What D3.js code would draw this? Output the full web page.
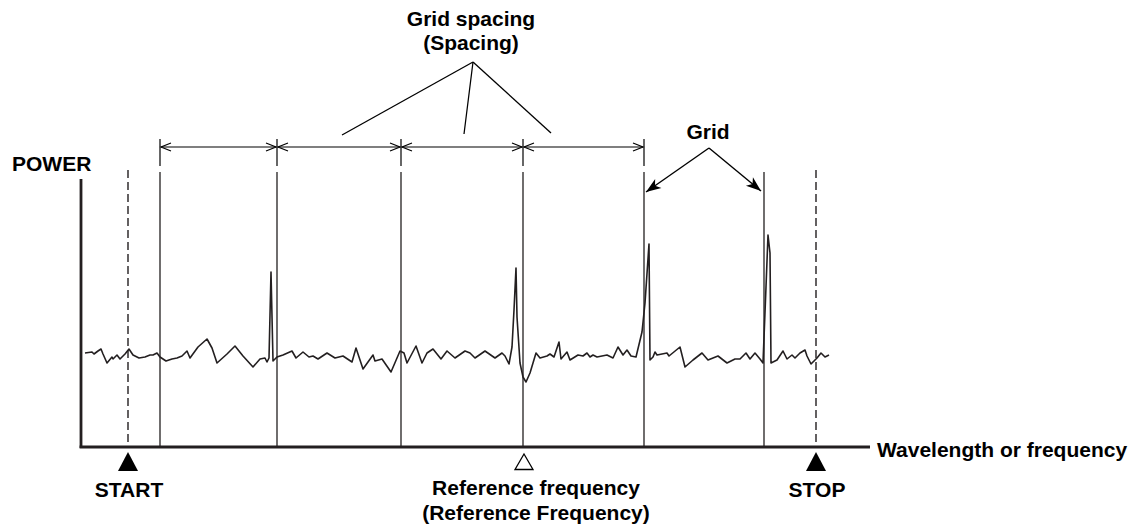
<!DOCTYPE html>
<html>
<head>
<meta charset="utf-8">
<script src="https://cdn.jsdelivr.net/npm/d3@7"></script>
<style>
  html, body { margin: 0; padding: 0; background: #ffffff; }
  svg { display: block; }
  text { font-family: "Liberation Sans", Arial, Helvetica, sans-serif; font-weight: bold; fill: #000; }
</style>
</head>
<body>
<svg id="chart" width="1144" height="528"></svg>
<script>
// ---- Data (arbitrary units: frequency offset from reference, power relative to noise floor) ----
const gridOffsets = [-363, -246, -122, 0, 121, 241];
const startOffset = -395;
const stopOffset = 293;
const referenceOffset = 0;

const traceFreq = [-438,-431,-429,-425,-422,-420,-416,-411,-410,-406,
  -403,-398,-394,-390,-384,-378,-373,-370,-366,-363,
  -357,-351,-346,-341,-336,-333,-325,-316,-311,-306,
  -296,-288,-280,-270,-263,-258,-256,-254,-252,-250,
  -246,-240,-231,-227,-220,-214,-210,-205,-196,-188,
  -180,-171,-167,-160,-150,-148,-141,-132,-123,-119,
  -116,-107,-101,-96,-90,-82,-76,-68,-58,-53,
  -48,-38,-28,-21,-18,-14,-11,-9,-7,-6,
  -3,0,3,7,13,17,24,27,31,36,
  38,44,47,55,60,64,67,70,74,84,
  90,95,100,104,108,113,119,122,126,127,
  130,132,134,144,146,157,162,170,179,185,
  195,204,212,217,223,227,232,237,240,243,
  245,247,248,254,260,264,269,272,277,282,
  284,288,294,298,302,306];
const tracePower = [-1,0,-2,1,3,-2,-11,-5,-7,-3,
  -7,-2,3,-3,-6,-5,-3,-3,-1,-5,
  -9,-7,-6,-4,1,-6,5,13,4,-11,
  -2,6,-4,-15,-7,-6,-10,-6,80,-9,
  -5,-3,1,-6,0,-5,-4,-7,-1,-6,
  -4,-10,4,-17,-3,-9,-7,-20,1,-1,
  -11,6,-11,-1,3,-7,1,-6,1,-1,
  -6,1,-6,-1,-4,-12,5,42,84,35,
  -11,-25,-30,-21,-1,-6,-4,-2,-5,10,
  -7,0,-8,-3,-4,-1,-5,-3,-5,-3,
  -6,5,-3,2,-4,-5,20,49,108,-8,
  -5,0,-3,-1,-4,5,-15,-8,-1,-8,
  -4,-11,-7,-7,-1,-7,-1,-7,-11,65,
  117,99,-11,-8,1,-7,-3,-6,-1,2,
  -4,-12,-6,-1,-5,-3];

// ---- Text labels ----
const yAxisLabel = "POWER";
const xAxisLabel = "Wavelength or frequency";
const spacingLabel = ["Grid spacing", "(Spacing)"];
const gridLabel = "Grid";
const startLabel = "START";
const stopLabel = "STOP";
const referenceLabel = ["Reference frequency", "(Reference Frequency)"];

// ---- Scales ----
const ink = "#231f20";
const fs = 21;
const svg = d3.select("#chart");
const x = d3.scaleLinear().domain([-442, 347]).range([81, 870]);
const y = d3.scaleLinear().domain([-95, 173]).range([447, 179]);

const gridTop = 172, axisY = y(-95);

// ---- Grid lines ----
svg.append("g").selectAll("line").data(gridOffsets).join("line")
  .attr("x1", d => x(d)).attr("x2", d => x(d))
  .attr("y1", gridTop).attr("y2", axisY)
  .attr("stroke", ink).attr("stroke-width", 1.3);

// ---- START / STOP dashed lines ----
svg.append("g").selectAll("line").data([startOffset, stopOffset]).join("line")
  .attr("x1", d => x(d)).attr("x2", d => x(d))
  .attr("y1", 170).attr("y2", axisY)
  .attr("stroke", ink).attr("stroke-width", 1.4)
  .attr("stroke-dasharray", "8,4");

// ---- Trace ----
const traceData = d3.zip(traceFreq, tracePower);
svg.append("path")
  .datum(traceData)
  .attr("d", d3.line().x(d => x(d[0])).y(d => y(d[1])))
  .attr("fill", "none").attr("stroke", ink)
  .attr("stroke-width", 1.6).attr("stroke-linejoin", "round");

// ---- Axes ----
svg.append("line").attr("x1", x(-442)).attr("x2", x(-442))
  .attr("y1", y(173)).attr("y2", axisY + 1)
  .attr("stroke", ink).attr("stroke-width", 2.8);
svg.append("line").attr("x1", x(-442) - 1.4).attr("x2", x(347))
  .attr("y1", axisY).attr("y2", axisY)
  .attr("stroke", ink).attr("stroke-width", 2.8);

// ---- Spacing arrows ----
const arrowY = 147;
const arrows = svg.append("g").attr("stroke", "#000").attr("fill", "none").attr("stroke-width", 1.2);
gridOffsets.slice(0, 5).forEach(d => {
  arrows.append("line").attr("x1", x(d)).attr("x2", x(d)).attr("y1", 139).attr("y2", 166);
});
for (let i = 0; i < 4; i++) {
  const a = x(gridOffsets[i]) + 1, b = x(gridOffsets[i + 1]) - 1;
  arrows.append("line").attr("x1", a).attr("x2", b).attr("y1", arrowY).attr("y2", arrowY);
  arrows.append("path").attr("d", `M${a + 10},${arrowY - 4}L${a},${arrowY}L${a + 10},${arrowY + 4}`);
  arrows.append("path").attr("d", `M${b - 10},${arrowY - 4}L${b},${arrowY}L${b - 10},${arrowY + 4}`);
}

// ---- Grid spacing leaders ----
const apex = [473, 62];
const leaderEnds = [[342, 135], [464, 134], [551, 133]];
leaderEnds.forEach(e => {
  svg.append("line").attr("x1", apex[0]).attr("y1", apex[1]).attr("x2", e[0]).attr("y2", e[1])
    .attr("stroke", "#000").attr("stroke-width", 1.3);
});
svg.append("text").attr("x", 471).attr("y", 26).attr("text-anchor", "middle")
  .attr("font-size", fs).text(spacingLabel[0]);
svg.append("text").attr("x", 471).attr("y", 50).attr("text-anchor", "middle")
  .attr("font-size", fs).text(spacingLabel[1]);

// ---- Grid label with filled arrows ----
svg.append("text").attr("x", 708).attr("y", 139).attr("text-anchor", "middle")
  .attr("font-size", fs).text(gridLabel);
const gApex = [709, 148];
const gTips = [[x(gridOffsets[4]) + 2, 192], [x(gridOffsets[5]) - 3, 191]];
gTips.forEach(t => {
  svg.append("line").attr("x1", gApex[0]).attr("y1", gApex[1]).attr("x2", t[0]).attr("y2", t[1])
    .attr("stroke", "#000").attr("stroke-width", 1.4);
  const dx = t[0] - gApex[0], dy = t[1] - gApex[1];
  const len = Math.hypot(dx, dy), ux = dx / len, uy = dy / len;
  const px = -uy, py = ux;
  const L = 15, Wd = 5.5, N = 11;
  const p1 = [t[0] - ux * L + px * Wd, t[1] - uy * L + py * Wd];
  const p2 = [t[0] - ux * N, t[1] - uy * N];
  const p3 = [t[0] - ux * L - px * Wd, t[1] - uy * L - py * Wd];
  svg.append("path").attr("d", `M${t[0]},${t[1]}L${p1}L${p2}L${p3}Z`).attr("fill", "#000");
});

// ---- Axis labels ----
svg.append("text").attr("x", 12).attr("y", 171).attr("font-size", fs).text(yAxisLabel);
svg.append("text").attr("x", 877).attr("y", 457).attr("font-size", fs).text(xAxisLabel);

// ---- START / STOP markers ----
[[startOffset, startLabel], [stopOffset, stopLabel]].forEach(([d, lab]) => {
  const cx = x(d);
  svg.append("path").attr("d", `M${cx},452L${cx + 10},471L${cx - 10},471Z`).attr("fill", "#000");
  svg.append("text").attr("x", cx + 1).attr("y", 497).attr("text-anchor", "middle")
    .attr("font-size", fs).text(lab);
});

// ---- Reference marker ----
const rx = x(referenceOffset) + 1;
svg.append("path").attr("d", `M${rx},454L${rx + 9},469.5L${rx - 9},469.5Z`)
  .attr("fill", "none").attr("stroke", "#000").attr("stroke-width", 1.3);
svg.append("text").attr("x", 536).attr("y", 495).attr("text-anchor", "middle")
  .attr("font-size", fs).text(referenceLabel[0]);
svg.append("text").attr("x", 536).attr("y", 520).attr("text-anchor", "middle")
  .attr("font-size", fs).text(referenceLabel[1]);
</script>
</body>
</html>
